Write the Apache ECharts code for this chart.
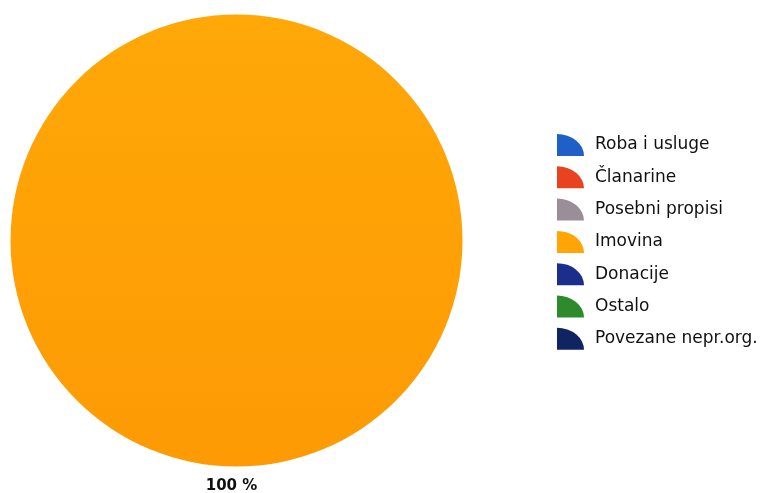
<!DOCTYPE html>
<html><head><meta charset="utf-8">
<script src="https://cdn.jsdelivr.net/npm/echarts@6/dist/echarts.min.js"></script>
<style>html,body{margin:0;padding:0;background:#fff}#c{width:765px;height:493px}</style>
</head><body><div id="c"></div>
<script>
const categories = ['Roba i usluge', 'Članarine', 'Posebni propisi', 'Imovina', 'Donacije', 'Ostalo', 'Povezane nepr.org.'];
const values = [0, 0, 0, 100, 0, 0, 0];
const colors = ['#1f5fc8', '#e8421e', '#9a8f98', '#ffa506', '#1b2e8c', '#2f8a2b', '#102462'];

const iconPath = 'path://M0,22 L0,0 A27,22 0 0 1 27,22 Z';
const chart = echarts.init(document.getElementById('c'));
const imovinaFill = new echarts.graphic.LinearGradient(0, 0, 0, 1, [
  { offset: 0, color: '#ffa808' },
  { offset: 1, color: '#fd9a04' }
]);
chart.setOption({
  animation: false,
  backgroundColor: '#ffffff',
  legend: {
    orient: 'vertical',
    left: 552,
    top: 129,
    itemWidth: 27,
    itemHeight: 22,
    itemGap: 10.3,
    icon: iconPath,
    textStyle: { fontFamily: 'DejaVu Sans', fontSize: 17, color: '#111', padding: [0, 0, 0, 6] },
    data: categories.map((c, i) => ({ name: c, itemStyle: { color: colors[i] } }))
  },
  series: [{
    type: 'pie',
    center: [236.5, 240.5],
    radius: 226,
    startAngle: 90,
    minAngle: 0,
    stillShowZeroSum: false,
    avoidLabelOverlap: false,
    data: categories.map((c, i) => ({
      name: c, value: values[i],
      itemStyle: { color: values[i] > 0 && i === 3 ? imovinaFill : colors[i] },
      label: { show: values[i] > 0 },
      labelLine: { show: false }
    })),
    label: {
      position: 'outside',
      formatter: p => Math.round(p.percent) + ' %',
      fontFamily: 'DejaVu Sans',
      fontWeight: 'bold',
      fontSize: 15,
      color: '#111'
    },
    labelLine: { show: false, length: 20, length2: 0 },
    labelLayout: { align: 'center', verticalAlign: 'middle' },
    emphasis: { disabled: true }
  }]
});
</script></body></html>
